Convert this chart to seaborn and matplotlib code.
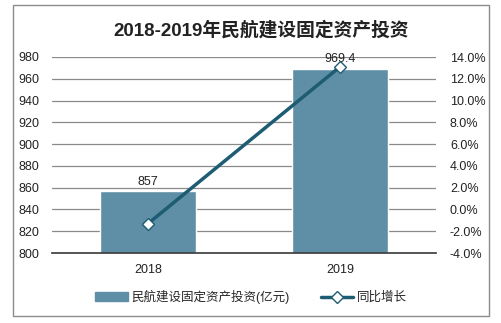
import matplotlib
matplotlib.use("Agg")
import matplotlib.pyplot as plt
import seaborn as sns
import pandas as pd
from matplotlib.patches import Rectangle
from matplotlib.lines import Line2D
from matplotlib.ticker import FuncFormatter

years = ["2018", "2019"]
investment = [857, 969.4]
growth = [-1.3, 13.1]
bar_label = "民航建设固定资产投资(亿元)"
line_label = "同比增长"
title = "2018-2019年民航建设固定资产投资"

sns.set_theme(style="white")
plt.rcParams["font.family"] = ["Liberation Sans", "Noto Sans CJK SC", "DejaVu Sans"]

bar_color = "#5E8FA6"
line_color = "#1D5C72"

df = pd.DataFrame({"year": years, "inv": investment, "g": growth})

fig = plt.figure(figsize=(5.02, 3.23), dpi=100)
fig.patch.set_facecolor("white")
fig.add_artist(Rectangle((13/502, 1-316/323), 476/502, 311/323, transform=fig.transFigure,
                         fill=False, edgecolor="#8c8c8c", linewidth=1))

ax = fig.add_axes([52/502, 1-253/323, 384/502, 196/323])
sns.barplot(data=df, x="year", y="inv", color=bar_color, width=0.5, ax=ax, saturation=1)
ax.set_ylim(800, 980)
ax.set_yticks(range(800, 981, 20))
ax.set_xlim(-0.5, 1.5)
ax.grid(axis="y", color="#8a8a8a", linewidth=0.9)
ax.set_axisbelow(True)
for s in ["top", "right", "left"]:
    ax.spines[s].set_visible(False)
ax.spines["bottom"].set_color("#404040")
ax.set_xlabel("")
ax.set_ylabel("")
ax.tick_params(axis="both", labelsize=9, colors="#222222", length=0)
ax.tick_params(axis="y", pad=9)
ax.tick_params(axis="x", pad=8)
for i, v in enumerate(investment):
    ax.text(i, v + 3, f"{v:g}", ha="center", va="bottom", fontsize=9, color="#222222")

ax2 = ax.twinx()
sns.lineplot(data=df, x="year", y="g", ax=ax2, color=line_color, linewidth=2.5,
             marker="D", markersize=6, markerfacecolor="white", markeredgecolor=line_color,
             markeredgewidth=1)
ax2.set_ylim(-4, 14)
ax2.set_yticks(range(-4, 15, 2))
ax2.yaxis.set_major_formatter(FuncFormatter(lambda v, p: f"{v:.1f}%"))
ax2.set_xlim(-0.5, 1.5)
for s in ["top", "right", "left", "bottom"]:
    ax2.spines[s].set_visible(False)
ax2.set_ylabel("")
ax2.set_xlabel("")
ax2.tick_params(axis="y", labelsize=9, colors="#222222", length=0, pad=10)
ax2.grid(False)

fig.text(261/502, 1-30/323, title, ha="center", va="center", fontsize=13.5,
         fontweight="bold", color="#222222")

handles = [Rectangle((0, 0), 1, 1, color=bar_color),
           Line2D([0], [0], color=line_color, linewidth=2.5, marker="D", markersize=6,
                  markerfacecolor="white", markeredgecolor=line_color)]
fig.legend(handles, [bar_label, line_label], loc="center", bbox_to_anchor=(251/502, 1-297/323),
           ncol=2, frameon=False, fontsize=9, handlelength=2.6, columnspacing=2.5,
           handletextpad=0.3)

fig.savefig("out.png", dpi=100)
